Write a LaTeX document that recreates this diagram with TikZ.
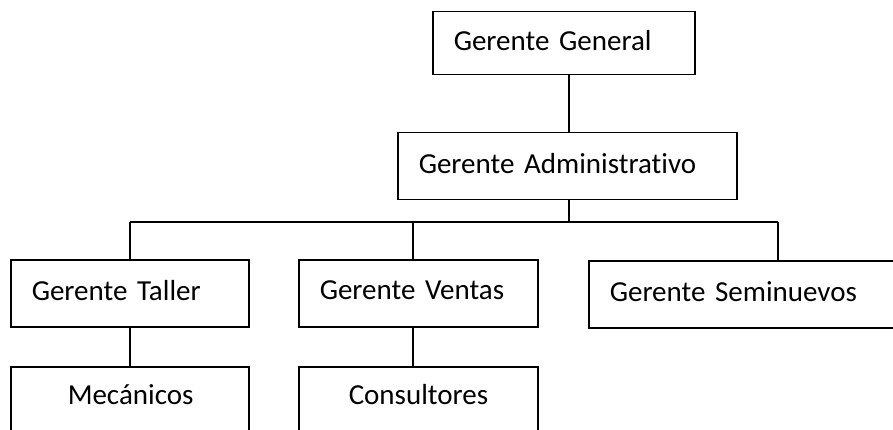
\documentclass[tikz,border=0pt]{standalone}
\usepackage{fontspec}
\setmainfont[Ligatures=NoCommon]{Carlito}
\usetikzlibrary{positioning}

\tikzset{
  cargo/.style={draw, line width=1.5pt, rectangle, anchor=north west,
    minimum height=67pt, inner xsep=21pt, align=left, text depth=6pt,
    font=\fontsize{29}{32}\selectfont},
  enlace/.style={line width=1.5pt}
}

\begin{document}
\begin{tikzpicture}[x=1pt,y=-1pt]
  \useasboundingbox (0,0) rectangle (893,430);
  \clip (0,0) rectangle (893,430);

  % Boxes
  \node[cargo, text width=220pt, minimum height=63pt] (gg) at (432,11) {Gerente General};
  \node[cargo, text width=297pt] (ga) at (397,132) {Gerente Administrativo};
  \node[cargo, text width=196pt] (gt) at (10,259) {Gerente Taller};
  \node[cargo, text width=197pt] (gv) at (298,259) {Gerente Ventas};
  \node[cargo, text width=336pt] (gs) at (588,260) {Gerente Seminuevos};
  \node[cargo, text width=196pt, minimum height=70pt, text depth=14pt] (me) at (10,366) {\hspace*{36pt}Mecánicos};
  \node[cargo, text width=197pt, minimum height=70pt, text depth=14pt] (co) at (298,366) {\hspace*{29pt}Consultores};

  % Lines
  \coordinate (bus) at (569,222);
  \draw[enlace] (gg.south -| bus) -- (ga.north -| bus);
  \draw[enlace] (ga.south -| bus) -- (bus);
  \draw[enlace] (gt.north |- bus) -- (gs.north |- bus);
  \draw[enlace] (gt.north |- bus) -- (gt.north);
  \draw[enlace] ([xshift=-5.5pt]gv.north |- bus) -- ([xshift=-5.5pt]gv.north);
  \draw[enlace] (gs.north |- bus) -- (gs.north);
  \draw[enlace] (gt.south) -- (me.north);
  \draw[enlace] ([xshift=-5.5pt]gv.south) -- ([xshift=-5.5pt]co.north);
\end{tikzpicture}
\end{document}
